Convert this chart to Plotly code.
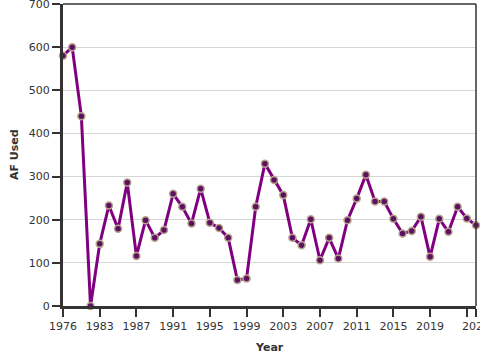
import plotly.graph_objects as go

years = list(range(1979, 2025))
af_used = [580, 600, 440, 0, 144, 233, 179, 286, 116, 199, 158, 176, 260, 230,
           191, 272, 193, 181, 158, 60, 64, 230, 330, 292, 257, 158, 141, 201,
           106, 158, 110, 199, 249, 304, 242, 242, 202, 168, 174, 207, 114, 202,
           172, 230, 203, 187]

x_tickvals = [1979, 1983, 1987, 1991, 1995, 1999, 2003, 2007, 2011, 2015, 2019, 2023, 2024]
x_ticktext = ["1976", "1983", "1987", "1991", "1995", "1999", "2003", "2007", "2011", "2015", "2019", "", "2024"]
y_tickvals = [0, 100, 200, 300, 400, 500, 600, 700]

fig = go.Figure()
fig.add_trace(go.Scatter(
    x=years, y=af_used, mode="lines+markers",
    line=dict(color="#800080", width=3),
    marker=dict(size=7, color="#5e1060", line=dict(color="#b5a48c", width=1.5)),
    cliponaxis=False, showlegend=False,
))

font_family = "DejaVu Sans, Verdana, sans-serif"
fig.update_layout(
    width=480, height=360,
    margin=dict(l=63, r=4, t=4, b=54, autoexpand=False),
    paper_bgcolor="white", plot_bgcolor="white",
    font=dict(family=font_family, size=11, color="#333"),
    xaxis=dict(range=[1979, 2024], tickvals=x_tickvals, ticktext=x_ticktext,
               automargin=False, ticklabeloverflow="allow",
               showgrid=False, zeroline=False, showline=True, linecolor="#333", linewidth=3,
               ticks="outside", ticklen=8, tickwidth=1.5, tickcolor="#333",
               tickfont=dict(size=11, color="#333")),
    yaxis=dict(range=[0, 700], tickvals=y_tickvals, automargin=False,
               ticklabeloverflow="allow",
               showgrid=True, gridcolor="#d6d6d6", gridwidth=1, zeroline=False,
               showline=True, linecolor="#333", linewidth=3,
               ticks="outside", ticklen=8, tickwidth=1.5, tickcolor="#333",
               tickfont=dict(size=11, color="#333")),
    shapes=[
        dict(type="line", xref="paper", yref="paper", x0=0, x1=1, y0=1, y1=1,
             line=dict(color="#333", width=1.5)),
        dict(type="line", xref="paper", yref="paper", x0=1, x1=1, y0=0, y1=1,
             line=dict(color="#333", width=1.5)),
    ],
    annotations=[
        dict(text="<b>Year</b>", xref="paper", yref="paper", x=0.5, y=0, yshift=-41,
             showarrow=False, xanchor="center", yanchor="middle",
             font=dict(size=11, color="#333", family=font_family)),
        dict(text="<b>AF Used</b>", xref="paper", yref="paper", x=0, xshift=-49, y=0.5,
             showarrow=False, xanchor="center", yanchor="middle", textangle=-90,
             font=dict(size=11, color="#333", family=font_family)),
    ],
)

fig.write_html("out.html", config={"displayModeBar": False},
               post_script="document.body.style.margin='0';")
